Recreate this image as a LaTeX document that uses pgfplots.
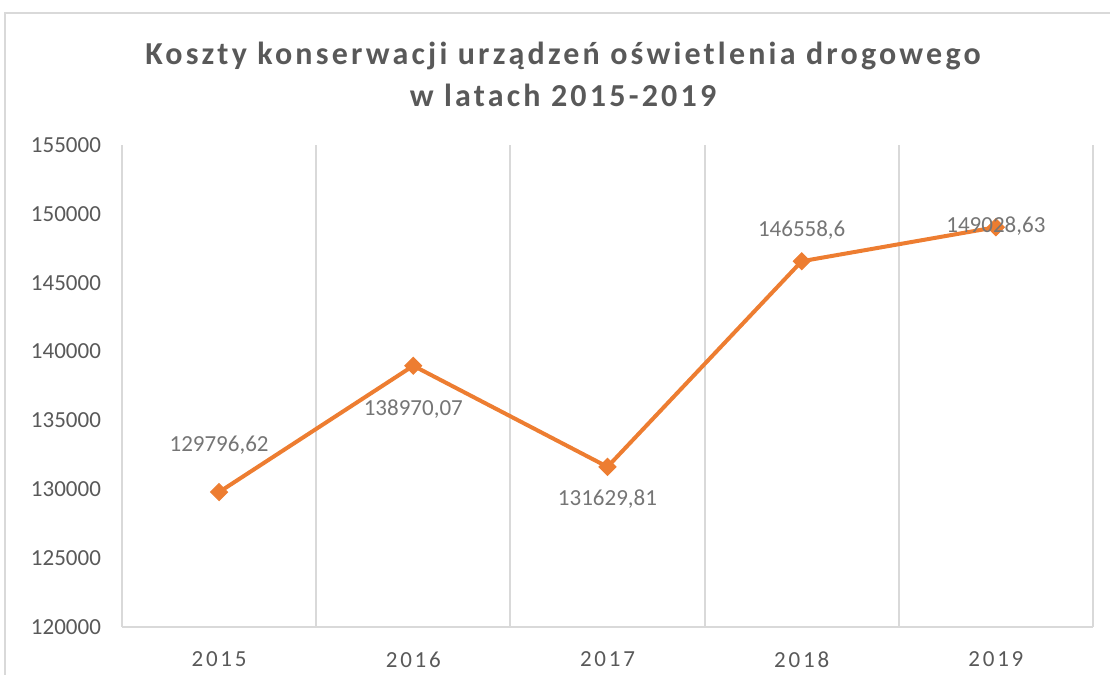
\documentclass[border=0pt]{standalone}
\usepackage{fontspec}
\setmainfont{Carlito}
\newfontfamily\titlefont[LetterSpace=10]{Carlito}
\newfontfamily\xfont[LetterSpace=12]{Carlito}
\usepackage{pgfplots}
\usepackage{pgfplotstable}
\pgfplotsset{compat=1.18}

\definecolor{lineorange}{HTML}{ED7D31}
\definecolor{txtgray}{HTML}{595959}
\definecolor{lblgray}{HTML}{757575}
\definecolor{gridgray}{HTML}{D9D9D9}

% x y label yoffset(pt)
\pgfplotstableread{
x y lab off
0 129796.62 129796,62 23.5
1 138970.07 138970,07 -21.5
2 131629.81 131629,81 -16
3 146558.6 146558,6 15.5
4 149028.63 149028,63 0.5
}\costs

\begin{document}
\begin{tikzpicture}[x=0.5pt,y=0.5pt]
\path[use as bounding box] (0,0) rectangle (1110,675);
% outer chart frame
\draw[gridgray, line width=1pt] (5,-5) -- (5,662) -- (1115,662);

\node[font=\titlefont\fontsize{16}{21}\selectfont\bfseries, text=txtgray, align=center]
  at (563,601) {Koszty konserwacji urządzeń oświetlenia drogowego\\w latach 2015-2019};

\begin{axis}[
    at={(61pt,24pt)}, anchor=south west,
    scale only axis,
    width=485.5pt, height=241pt,
    xmin=-0.5, xmax=4.5,
    ymin=120000, ymax=155000,
    ytick={120000,125000,...,155000},
    xtick={0,1,2,3,4},
    xticklabels={2015,2016,2017,2018,2019},
    minor xtick={-0.5,0.5,1.5,2.5,3.5,4.5},
    xminorgrids=true,
    minor grid style={gridgray, line width=1pt},
    major tick length=0pt, minor tick length=0pt,
    axis x line*=bottom,
    axis y line*=left,
    x axis line style={gridgray, line width=1pt, -},
    y axis line style={draw=none},
    tick label style={text=txtgray},
    y tick label style={font=\fontsize{11.5}{13}\selectfont, xshift=-7pt},
    x tick label style={font=\xfont\fontsize{11.5}{13}\selectfont, yshift=-9pt},
    /pgf/number format/assume math mode=true,
    /pgf/number format/set thousands separator={},
    yticklabel style={/pgf/number format/fixed},
    scaled y ticks=false,
    clip=false,
]
\addplot[lineorange, line width=2pt, mark=square*, mark size=3pt,
    mark options={fill=lineorange, draw=lineorange, line width=0.5pt, rotate=45},
    visualization depends on={\thisrow{off}\as\myoff},
    point meta=explicit symbolic,
    nodes near coords,
    nodes near coords style={anchor=center, text=lblgray,
        font=\fontsize{11.5}{13}\selectfont, yshift=\myoff pt},
] table[x=x, y=y, meta=lab] {\costs};
\end{axis}
\end{tikzpicture}
\end{document}
